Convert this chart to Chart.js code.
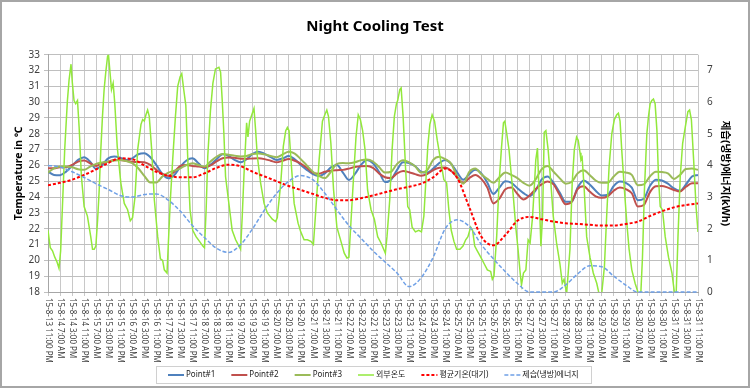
<!DOCTYPE html>
<html lang="ko">
<head>
<meta charset="UTF-8">
<title>Night Cooling Test</title>
<style>
  html, body { margin: 0; padding: 0; background: #fff; }
  #wrap { width: 750px; height: 388px; }
</style>
<script src="https://cdn.jsdelivr.net/npm/chart.js"></script>
</head>
<body>
<div id="wrap"><canvas id="nightChart" width="750" height="388"></canvas></div>
<script>
const FONT = "'Noto Sans', 'Noto Sans CJK KR', sans-serif";

// one label every 8 hours, starting 15-8-13 11:00 PM
const tickLabels = [
  '15-8-13 11:00 PM',
  '15-8-14 7:00 AM', '15-8-14 3:00 PM', '15-8-14 11:00 PM',
  '15-8-15 7:00 AM', '15-8-15 3:00 PM', '15-8-15 11:00 PM',
  '15-8-16 7:00 AM', '15-8-16 3:00 PM', '15-8-16 11:00 PM',
  '15-8-17 7:00 AM', '15-8-17 3:00 PM', '15-8-17 11:00 PM',
  '15-8-18 7:00 AM', '15-8-18 3:00 PM', '15-8-18 11:00 PM',
  '15-8-19 7:00 AM', '15-8-19 3:00 PM', '15-8-19 11:00 PM',
  '15-8-20 7:00 AM', '15-8-20 3:00 PM', '15-8-20 11:00 PM',
  '15-8-21 7:00 AM', '15-8-21 3:00 PM', '15-8-21 11:00 PM',
  '15-8-22 7:00 AM', '15-8-22 3:00 PM', '15-8-22 11:00 PM',
  '15-8-23 7:00 AM', '15-8-23 3:00 PM', '15-8-23 11:00 PM',
  '15-8-24 7:00 AM', '15-8-24 3:00 PM', '15-8-24 11:00 PM',
  '15-8-25 7:00 AM', '15-8-25 3:00 PM', '15-8-25 11:00 PM',
  '15-8-26 7:00 AM', '15-8-26 3:00 PM', '15-8-26 11:00 PM',
  '15-8-27 7:00 AM', '15-8-27 3:00 PM', '15-8-27 11:00 PM',
  '15-8-28 7:00 AM', '15-8-28 3:00 PM', '15-8-28 11:00 PM',
  '15-8-29 7:00 AM', '15-8-29 3:00 PM', '15-8-29 11:00 PM',
  '15-8-30 7:00 AM', '15-8-30 3:00 PM', '15-8-30 11:00 PM',
  '15-8-31 7:00 AM', '15-8-31 3:00 PM', '15-8-31 11:00 PM'
];
const labelStep = 8;   // hours between tick labels
const pointStep = 4;   // hours between Point#1..3 readings
const dailyStep = 8;   // hours between 평균기온 / 에너지 readings

// indoor points, every 4 h (℃)
const point1 = [
  25.61, 25.4, 25.38, 25.61, 25.97, 26.35, 26.52, 26.24, 25.78, 26.03, 26.45, 26.56,
  26.49, 26.35, 26.45, 26.71, 26.77, 26.52, 26.03, 25.46, 25.19, 25.4, 25.93, 26.31,
  26.45, 26.14, 25.82, 26.05, 26.39, 26.7, 26.6, 26.35, 26.2, 26.39, 26.73, 26.87,
  26.73, 26.52, 26.35, 26.45, 26.6, 26.39, 26.03, 25.72, 25.46, 25.34, 25.5, 25.88,
  26.03, 25.55, 25.08, 25.46, 26.03, 26.35, 26.14, 25.6, 24.95, 25.1, 25.72, 26.2,
  26.15, 25.95, 25.6, 25.55, 25.8, 26.15, 26.35, 26.1, 25.55, 25.1, 25.45, 25.72,
  25.5, 24.9, 24.2, 24.6, 25.0, 24.9, 24.56, 24.25, 24.05, 24.4, 25.1, 25.3,
  24.9, 24.3, 23.7, 23.7, 24.6, 25.05, 24.8, 24.4, 24.1, 24.15, 24.7, 24.98,
  24.9, 24.6, 23.8, 23.9, 24.7, 25.1, 25.05, 24.85, 24.55, 24.4, 24.8, 25.3,
  25.4
];
const point2 = [
  25.82, 25.82, 25.88, 25.88, 26.03, 26.24, 26.31, 26.14, 25.97, 26.14, 26.24, 26.35,
  26.35, 26.28, 26.24, 26.22, 26.2, 26.03, 25.72, 25.46, 25.34, 25.61, 25.97, 26.03,
  25.97, 25.93, 25.88, 26.0, 26.25, 26.45, 26.5, 26.48, 26.43, 26.42, 26.44, 26.45,
  26.4, 26.3, 26.2, 26.3, 26.4, 26.3, 26.12, 25.85, 25.55, 25.48, 25.6, 25.67,
  25.7, 25.72, 25.8, 25.9, 25.95, 25.97, 25.85, 25.5, 25.25, 25.2, 25.5, 25.65,
  25.57, 25.45, 25.35, 25.45, 25.7, 25.85, 25.87, 25.65, 25.25, 24.9, 25.2, 25.4,
  25.15, 24.6, 23.6, 23.9, 24.5, 24.6, 24.2, 23.85, 24.1, 24.5, 24.8, 24.98,
  24.8, 24.15, 23.55, 23.7, 24.5, 24.68, 24.35, 24.05, 23.95, 24.05, 24.4, 24.6,
  24.5, 24.24, 23.4, 23.5, 24.3, 24.68, 24.7, 24.6, 24.45, 24.35, 24.65, 24.87,
  24.87
];
const point3 = [
  25.55, 25.82, 25.93, 25.93, 25.88, 25.76, 25.72, 25.93, 26.1, 26.18, 26.24, 26.31,
  26.35, 26.28, 26.14, 25.82, 25.34, 24.92, 24.92, 25.3, 25.55, 25.67, 25.82, 26.03,
  26.14, 26.03, 25.93, 26.25, 26.55, 26.72, 26.68, 26.62, 26.57, 26.6, 26.72, 26.76,
  26.7, 26.6, 26.52, 26.7, 26.86, 26.75, 26.4, 26.0, 25.6, 25.35, 25.2, 25.6,
  26.1, 26.15, 26.14, 26.2, 26.33, 26.38, 26.25, 25.9, 25.55, 25.6, 26.1, 26.33,
  26.2, 25.95, 25.55, 25.7, 26.35, 26.55, 26.4, 26.1, 25.3, 24.85, 25.6, 25.8,
  25.45, 25.15, 24.9, 25.25, 25.55, 25.4, 25.2, 24.9, 24.72, 25.1, 25.75, 25.97,
  25.6, 25.2, 24.85, 24.95, 25.5, 25.7, 25.4, 25.05, 24.9, 24.9, 25.3, 25.6,
  25.55, 25.4, 24.75, 24.8, 25.3, 25.6, 25.58, 25.5, 25.15, 25.4, 25.78, 25.8,
  25.72
];

// 평균기온(대기), every 8 h (℃)
const avgAirTemp = [
  24.75, 24.9, 25.1, 25.4, 25.75, 26.15, 26.45, 26.4, 26.0, 25.6, 25.35, 25.25,
  25.25, 25.5, 25.85, 26.05, 25.95, 25.6, 25.3, 25.0, 24.7, 24.45, 24.2, 23.95,
  23.8, 23.8, 23.93, 24.1, 24.3, 24.5, 24.65, 24.85, 25.25, 25.8, 25.2, 23.35,
  21.5, 20.95, 21.6, 22.5, 22.75, 22.6, 22.45, 22.35, 22.3, 22.25, 22.2, 22.2,
  22.3, 22.45, 22.8, 23.1, 23.35, 23.5, 23.6
];

// 제습(냉방)에너지, every 8 h (kWh, right axis)
const coolingEnergy = [
  4.0, 3.95, 3.8, 3.62, 3.42, 3.24, 3.05, 3.0, 3.08, 3.1, 2.9, 2.55,
  2.1, 1.72, 1.38, 1.25, 1.5, 2.0, 2.6, 3.12, 3.5, 3.68, 3.55, 3.12,
  2.6, 2.1, 1.7, 1.3, 0.95, 0.6, 0.17, 0.45, 1.1, 2.0, 2.28, 2.07,
  1.5, 1.05, 0.64, 0.27, 0, 0, 0, 0.22, 0.57, 0.83, 0.8, 0.5,
  0.22, 0, 0, 0, 0, 0, 0
];

// 외부온도: [hour since start, ℃] read at turning points of the trace
const outdoorReadings = [
  [0, 21.9], [1.5, 20.8], [3, 20.6], [4.5, 20.2], [6, 19.9], [7.3, 19.5], [8.4, 20.6], [9.6, 23.4],
  [11.1, 27.0], [12.9, 30.1], [14, 31.4], [15.3, 32.4], [16.2, 31.2], [17.3, 30.1], [18.4, 29.9], [19.6, 30.1],
  [20.7, 28.4], [22.2, 25.3], [24, 23.4], [26.2, 22.8], [28.4, 21.5], [29.6, 20.7], [30.7, 20.7], [31.8, 20.9],
  [33, 22.6], [34, 24.4], [35.1, 27.0], [36.2, 29.1], [37.3, 30.8], [38.4, 31.9], [39.6, 32.9], [40.2, 33.0],
  [41.1, 32.0], [42.2, 30.8], [43.3, 31.2], [44.4, 29.9], [46, 27.2], [48.4, 24.9], [50.7, 23.6], [52.9, 23.2],
  [54.7, 22.5], [56.2, 22.7], [57.8, 24.0], [59.6, 27.0], [61.8, 28.6], [62.9, 28.9], [64, 28.8], [65.1, 29.2],
  [66.2, 29.5], [67.3, 29.1], [68.9, 27.0], [70.7, 23.8], [72.9, 21.5], [74.7, 20.1], [76.2, 20.0], [77.3, 19.4],
  [79.1, 19.2], [80, 21.1], [81.3, 23.8], [82.9, 26.4], [84.7, 29.1], [86.2, 31.0], [87.8, 31.6], [88.9, 31.8],
  [90.2, 30.8], [91.6, 29.8], [92.9, 26.4], [94.4, 23.2], [96.2, 21.9], [98.4, 21.5], [100.7, 21.2], [102.9, 20.9],
  [104, 20.8], [105.1, 23.2], [106.2, 26.6], [108, 29.5], [109.6, 31.2], [111.3, 32.1], [113.6, 32.2], [114.7, 31.9],
  [115.8, 30.1], [116.9, 28.0], [118, 25.3], [120.2, 23.6], [122.4, 21.9], [124.7, 21.3], [126.9, 20.9], [128, 20.7],
  [129.1, 22.8], [130.2, 25.3], [132, 28.7], [132.9, 27.8], [134, 28.8], [135.8, 29.3], [136.9, 29.6], [138, 28.2],
  [139.1, 26.6], [141.3, 24.9], [143.6, 23.6], [145.8, 23.0], [149.1, 22.6], [151.3, 22.45], [152.4, 22.7], [154.7, 24.9],
  [156.4, 27.2], [158, 28.2], [159.1, 28.4], [160.2, 28.2], [161.3, 26.6], [163.6, 23.6], [166.2, 22.35], [168, 21.8],
  [170.2, 21.3], [172.4, 21.3], [174.7, 21.2], [176.4, 21.0], [178, 23.2], [180.2, 26.35], [182.4, 28.8], [184, 29.2],
  [185.3, 29.5], [186.4, 29.1], [188, 27.4], [189.8, 24.45], [192, 22.1], [194.7, 21.2], [196.9, 20.45], [198.7, 20.15],
  [200, 20.2], [201.3, 22.35], [203.1, 25.3], [204.7, 27.8], [206.2, 29.2], [207.6, 28.9], [209.1, 28.2], [210.7, 27.0],
  [212.4, 24.45], [214.7, 23.2], [216.9, 22.6], [219.1, 21.5], [221.3, 21.1], [223.1, 20.7], [224.2, 20.45], [225.3, 21.5],
  [227.1, 23.8], [228.7, 27.0], [230.2, 29.1], [231.6, 29.9], [232.4, 30.1], [233.8, 30.8], [234.7, 30.9], [236, 29.1],
  [237.6, 25.9], [239.1, 23.4], [240.4, 23.2], [242, 22.1], [244.2, 21.8], [246.4, 21.9], [248.2, 21.8], [249.8, 22.8],
  [251.3, 25.3], [252.4, 27.2], [253.8, 28.6], [255.3, 29.2], [256.9, 28.8], [258.7, 27.6], [260.9, 26.35], [263.1, 25.1],
  [264.9, 24.9], [266.4, 23.2], [268, 21.9], [269.8, 21.2], [271.6, 20.7], [273.8, 20.7], [275.8, 20.9], [277.6, 21.3],
  [279.1, 21.5], [280.9, 22.1], [282.2, 21.9], [283.6, 20.9], [285.3, 20.6], [287.6, 20.2], [289.8, 19.8], [292, 19.4],
  [294.2, 19.3], [295.3, 18.8], [296.4, 19.0], [298.2, 21.5], [299.8, 24.9], [301.3, 27.0], [302.7, 28.7], [303.6, 28.8],
  [304.9, 28.0], [306.4, 27.0], [308, 25.3], [309.3, 24.0], [310.9, 22.1], [312.4, 20.7], [313.8, 19.2], [314.7, 18.45],
  [316, 19.2], [317.6, 19.4], [319.1, 21.3], [320.4, 21.1], [322, 22.7], [323.1, 24.45], [324.2, 26.35], [325.3, 27.1],
  [326.4, 24.2], [327.6, 20.9], [328.7, 22.8], [329.8, 28.1], [330.9, 28.2], [332.4, 27.0], [334.2, 24.9], [335.8, 22.8],
  [338, 21.1], [340.2, 19.8], [341.8, 18.55], [343, 18.8], [344.7, 17.9], [346.9, 20.7], [348.4, 24.9], [349.8, 27.0],
  [351.3, 27.8], [352.4, 27.6], [353.6, 26.8], [354.2, 26.35], [355, 26.5], [356.4, 24.45], [358, 21.5], [360.2, 20.2],
  [362.4, 19.2], [364.7, 18.55], [366.2, 17.9], [368, 17.9], [369.8, 19.6], [371.3, 22.8], [372.9, 25.9], [374.7, 28.0],
  [376.4, 28.9], [378, 29.2], [379.1, 29.3], [380.2, 28.8], [381.3, 27.0], [383.1, 24.45], [384.7, 22.35], [386.2, 20.7],
  [388, 19.4], [390.2, 18.55], [392.4, 17.9], [394, 17.9], [395.1, 20.2], [396.4, 24.45], [398, 28.0], [399.1, 29.1],
  [400.2, 29.9], [401.3, 30.1], [402.4, 30.2], [403.5, 29.9], [404.7, 28.2], [405.8, 25.1], [406.9, 23.4], [408.4, 23.2],
  [410.2, 21.5], [412.4, 20.2], [414.7, 19.2], [416.4, 17.9], [417.5, 17.9], [418.7, 21.5], [420.2, 25.3], [421.8, 27.4],
  [423.6, 28.45], [425.3, 29.4], [426.4, 29.5], [427.6, 28.9], [429.1, 26.35], [430.7, 23.4], [432, 21.8]
];

const stepped = (values, step) => values.map((v, i) => ({ x: i * step, y: v }));

// draws the frame, the boxed legend and the downward-reading date labels
const excelLook = {
  id: 'excelLook',
  afterDraw(chart) {
    const { ctx, chartArea, scales } = chart;
    ctx.save();

    // date labels, rotated clockwise like Excel
    ctx.font = '8px ' + FONT;
    ctx.fillStyle = '#404040';
    ctx.textAlign = 'left';
    ctx.textBaseline = 'middle';
    scales.x.ticks.forEach(t => {
      const text = tickLabels[Math.round(t.value / labelStep)];
      if (!text) return;
      ctx.save();
      ctx.translate(scales.x.getPixelForValue(t.value), chartArea.bottom + 6);
      ctx.rotate(Math.PI / 2);
      ctx.fillText(text, 0, 0);
      ctx.restore();
    });

    // legend
    const sets = chart.data.datasets;
    ctx.font = '8px ' + FONT;
    const sample = 16, gap = 2, spacing = 16, pad = 12;
    const widths = sets.map(d => sample + gap + ctx.measureText(d.label).width);
    const total = widths.reduce((a, b) => a + b, 0) + spacing * (sets.length - 1) + pad * 2;
    const boxLeft = Math.round(chart.width / 2 - total / 2) - 2;
    const boxTop = chart.height - 22, boxH = 17;
    ctx.strokeStyle = '#d0d0d0';
    ctx.lineWidth = 1;
    ctx.strokeRect(boxLeft + 0.5, boxTop + 0.5, Math.round(total), boxH);
    let x = boxLeft + pad;
    const cy = boxTop + boxH / 2 + 0.5;
    sets.forEach((d, i) => {
      ctx.beginPath();
      ctx.setLineDash(d.borderDash || []);
      ctx.strokeStyle = d.borderColor;
      ctx.lineWidth = d.borderWidth;
      ctx.moveTo(x, cy);
      ctx.lineTo(x + sample, cy);
      ctx.stroke();
      ctx.setLineDash([]);
      ctx.fillStyle = '#222';
      ctx.fillText(d.label, x + sample + gap, cy);
      x += widths[i] + spacing;
    });

    // outer chart border
    ctx.strokeStyle = '#a6a6a6';
    ctx.lineWidth = 2;
    ctx.strokeRect(1, 1, chart.width - 2, chart.height - 2);
    ctx.restore();
  }
};

new Chart(document.getElementById('nightChart'), {
  type: 'line',
  data: {
    datasets: [
      { label: 'Point#1', data: stepped(point1, pointStep), yAxisID: 'y', order: 6,
        borderColor: '#4F81BD', borderWidth: 2, cubicInterpolationMode: 'monotone' },
      { label: 'Point#2', data: stepped(point2, pointStep), yAxisID: 'y', order: 5,
        borderColor: '#C0504D', borderWidth: 2, cubicInterpolationMode: 'monotone' },
      { label: 'Point#3', data: stepped(point3, pointStep), yAxisID: 'y', order: 4,
        borderColor: '#9BBB59', borderWidth: 2, cubicInterpolationMode: 'monotone' },
      { label: '외부온도', data: outdoorReadings.map(r => ({ x: r[0], y: r[1] })), yAxisID: 'y', order: 3,
        borderColor: '#92E83C', borderWidth: 1.5, tension: 0 },
      { label: '평균기온(대기)', data: stepped(avgAirTemp, dailyStep), yAxisID: 'y', order: 2,
        borderColor: '#FF0000', borderWidth: 2, borderDash: [3, 2], cubicInterpolationMode: 'monotone' },
      { label: '제습(냉방)에너지', data: stepped(coolingEnergy, dailyStep), yAxisID: 'y1', order: 1,
        borderColor: '#6FA0E6', borderWidth: 1.5, borderDash: [4, 2], cubicInterpolationMode: 'monotone', clip: 3 }
    ]
  },
  options: {
    responsive: false,
    animation: false,
    layout: { padding: { bottom: 26 } },
    elements: { point: { radius: 0 } },
    plugins: {
      legend: { display: false },
      tooltip: { enabled: false },
      title: {
        display: true,
        text: 'Night Cooling Test',
        color: '#000',
        font: { family: FONT, size: 15, weight: 'bold' },
        padding: { top: 18, bottom: 18.7 }
      }
    },
    scales: {
      x: {
        type: 'linear',
        min: 0,
        max: 432,
        ticks: { stepSize: labelStep, display: false },
        grid: { color: '#c8c8c8', tickLength: 4 },
        border: { color: '#a6a6a6' },
        afterFit(s) { s.height = 70; }
      },
      y: {
        position: 'left',
        min: 18,
        max: 33,
        ticks: { stepSize: 1, padding: 4, color: '#404040', font: { family: FONT, size: 10 } },
        grid: { color: '#bfbfbf', tickLength: 4 },
        border: { color: '#a6a6a6' },
        title: {
          display: true,
          text: 'Temperature in ℃',
          color: '#000',
          font: { family: FONT, size: 10.5, weight: 'bold' },
          padding: { top: 13, bottom: 0 }
        },
        afterFit(s) { s.width = 48; }
      },
      y1: {
        position: 'right',
        min: 0,
        max: 7.5,
        ticks: { stepSize: 1, includeBounds: false, padding: 9, color: '#404040', font: { family: FONT, size: 10 } },
        grid: { display: false, drawTicks: false },
        border: { display: false },
        title: {
          display: true,
          text: '제습(냉방)에너지(kWh)',
          color: '#000',
          font: { family: FONT, size: 10.5, weight: 'bold' },
          padding: { top: 19, bottom: 0 }
        },
        afterFit(s) { s.width = 52; }
      }
    }
  },
  plugins: [excelLook]
});
</script>
</body>
</html>
